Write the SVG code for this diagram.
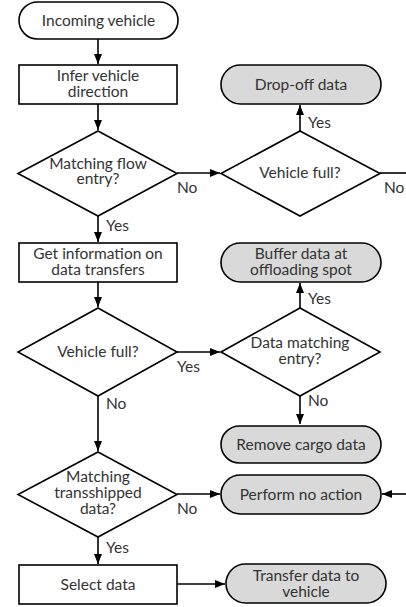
<svg xmlns="http://www.w3.org/2000/svg" width="406" height="607" viewBox="0 0 406 607">
<style>
.s{fill:#fff;stroke:#000;stroke-width:1.6}
.g{fill:#d9d9d9;stroke:#000;stroke-width:1.6}
text{font-family:Lato,"Liberation Sans",sans-serif;font-size:15.5px;fill:#333;text-anchor:middle}
.l{text-anchor:start}
.c{fill:none;stroke:#000;stroke-width:1.6}
</style>
<defs>
<marker id="a" viewBox="0 0 10 8" refX="10" refY="4" markerWidth="10" markerHeight="8" markerUnits="userSpaceOnUse" orient="auto">
<path d="M0,0L10,4L0,8z" fill="#000"/>
</marker>
</defs>
<g id="connectors">
<path class="c" d="M98,39V64" marker-end="url(#a)"/>
<path class="c" d="M98,104V130" marker-end="url(#a)"/>
<path class="c" d="M177,173H220" marker-end="url(#a)"/>
<path class="c" d="M300,131V105" marker-end="url(#a)"/>
<path class="c" d="M380,173H406"/>
<path class="c" d="M98,216V242" marker-end="url(#a)"/>
<path class="c" d="M98,282V307" marker-end="url(#a)"/>
<path class="c" d="M177,352H220" marker-end="url(#a)"/>
<path class="c" d="M300,308V283" marker-end="url(#a)"/>
<path class="c" d="M300,396V424" marker-end="url(#a)"/>
<path class="c" d="M98,396V451" marker-end="url(#a)"/>
<path class="c" d="M177,494H220" marker-end="url(#a)"/>
<path class="c" d="M406,494H382" marker-end="url(#a)"/>
<path class="c" d="M98,537V564" marker-end="url(#a)"/>
<path class="c" d="M177,584H225" marker-end="url(#a)"/>
<text class="l" x="177" y="193">No</text>
<text class="l" x="308" y="128">Yes</text>
<text class="l" x="384" y="193">No</text>
<text class="l" x="106" y="231">Yes</text>
<text class="l" x="308" y="304">Yes</text>
<text class="l" x="177" y="372">Yes</text>
<text class="l" x="308" y="406">No</text>
<text class="l" x="106" y="409">No</text>
<text class="l" x="177" y="514">No</text>
<text class="l" x="106" y="553">Yes</text>
</g>
<g id="n1"><rect class="s" x="19" y="2" width="159" height="37" rx="18.5"/><text x="98.5" y="26">Incoming vehicle</text></g>
<g id="n2"><rect class="s" x="19" y="65" width="158" height="39"/><text x="98" y="81">Infer vehicle</text><text x="98" y="97">direction</text></g>
<g id="n3"><path class="s" d="M98,131L177,173.5L98,216L18,173.5z"/><text x="98" y="169">Matching flow</text><text x="98" y="184">entry?</text></g>
<g id="n4"><rect class="g" x="221" y="65" width="160" height="39" rx="19.5"/><text x="301" y="90">Drop-off data</text></g>
<g id="n5"><path class="s" d="M300,131L380,173.5L300,216L221,173.5z"/><text x="300" y="178">Vehicle full?</text></g>
<g id="n6"><rect class="s" x="19" y="243" width="158" height="39"/><text x="98" y="259">Get information on</text><text x="98" y="275">data transfers</text></g>
<g id="n7"><path class="s" d="M98,308L177,352L98,396L18,352z"/><text x="98" y="357">Vehicle full?</text></g>
<g id="n8"><rect class="g" x="221" y="243" width="160" height="39" rx="19.5"/><text x="301" y="259">Buffer data at</text><text x="301" y="275">offloading spot</text></g>
<g id="n9"><path class="s" d="M300,308L380,352L300,396L221,352z"/><text x="300" y="348">Data matching</text><text x="300" y="364">entry?</text></g>
<g id="n10"><rect class="g" x="221" y="426" width="160" height="37" rx="18.5"/><text x="301" y="450">Remove cargo data</text></g>
<g id="n11"><rect class="g" x="221" y="475" width="160" height="39" rx="19.5"/><text x="301" y="500">Perform no action</text></g>
<g id="n12"><path class="s" d="M98,452L177,494.5L98,537L18,494.5z"/><text x="98" y="482">Matching</text><text x="98" y="498">transshipped</text><text x="98" y="514">data?</text></g>
<g id="n13"><rect class="s" x="19" y="565" width="158" height="39"/><text x="98" y="590">Select data</text></g>
<g id="n14"><rect class="g" x="226" y="564" width="160" height="39" rx="19.5"/><text x="306" y="581">Transfer data to</text><text x="306" y="597">vehicle</text></g>
</svg>
